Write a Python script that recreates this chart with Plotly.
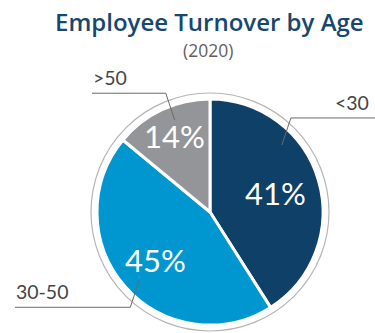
import math
import plotly.graph_objects as go

# Employee turnover share by age group, 2020
age_groups = ["<30", "30-50", ">50"]
turnover_share = [41, 45, 14]
slice_colors = ["#0f4068", "#0096cf", "#939598"]

W, H = 375, 333
CX, CY, R = 210, 212, 113      # pie centre and radius (px)
RING_R = 119                   # thin outer ring

# where each leader line meets its slice, and how the callout is laid out
callouts = {
    "<30":   dict(angle=47,  side="right", end=W),
    "30-50": dict(angle=226, side="left",  end=15),
    ">50":   dict(angle=339, side="left",  end=92),
}
# radial position of the percentage text, as a fraction of the radius
pct_radius = {"<30": 0.60, "30-50": 0.64, ">50": 0.74}


def px(x):
    return x / W


def py(y):
    return 1 - y / H


def polar(angle_deg, r):
    a = math.radians(angle_deg)
    return CX + r * math.sin(a), CY - r * math.cos(a)


fig = go.Figure(
    go.Pie(
        labels=age_groups,
        values=turnover_share,
        sort=False,
        direction="clockwise",
        rotation=0,
        marker=dict(colors=slice_colors, line=dict(color="white", width=3)),
        textinfo="none",
        hoverinfo="label+percent",
        showlegend=False,
        domain=dict(x=[px(CX - R), px(CX + R)], y=[py(CY + R), py(CY - R)]),
    )
)

shapes = [
    dict(type="circle", xref="paper", yref="paper",
         x0=px(CX - RING_R), x1=px(CX + RING_R),
         y0=py(CY + RING_R), y1=py(CY - RING_R),
         line=dict(color="#b5b5b5", width=1.2))
]
annotations = [
    dict(text="Employee Turnover by Age", x=px(209), y=py(21), xref="paper", yref="paper",
         showarrow=False, xanchor="center", yanchor="middle",
         font=dict(family="Open Sans", size=24, color="#17476f", weight=600)),
    dict(text="(2020)", x=px(208), y=py(50), xref="paper", yref="paper",
         showarrow=False, xanchor="center", yanchor="middle",
         font=dict(family="Open Sans", size=17.5, color="#5f5f5f", weight=400)),
]

total = sum(turnover_share)
start = 0.0
for label, value in zip(age_groups, turnover_share):
    sweep = 360.0 * value / total
    mid = start + sweep / 2
    tx, ty = polar(mid, pct_radius[label] * R)
    annotations.append(dict(
        text=f"{round(100 * value / total)}%", x=px(tx), y=py(ty),
        xref="paper", yref="paper", showarrow=False,
        xanchor="center", yanchor="middle",
        font=dict(family="Lato", size=31, color="white", weight=400)))

    c = callouts[label]
    ix, iy = polar(c["angle"], 0.87 * R)
    a = math.radians(c["angle"])
    sx = 1 if math.sin(a) > 0 else -1
    sy = 1 if -math.cos(a) > 0 else -1
    ex, ey = ix + sx * 9, iy + sy * 27
    shapes.append(dict(type="line", xref="paper", yref="paper",
                       x0=px(ix), y0=py(iy), x1=px(ex), y1=py(ey),
                       line=dict(color="#6a6a6a", width=1)))
    shapes.append(dict(type="line", xref="paper", yref="paper",
                       x0=px(ex), y0=py(ey), x1=px(c["end"]), y1=py(ey),
                       line=dict(color="#6a6a6a", width=1)))
    if c["side"] == "right":
        lx, anchor = c["end"] - 4, "right"
    else:
        lx, anchor = c["end"] - 1, "left"
    annotations.append(dict(
        text=label, x=px(lx), y=py(ey - 2), xref="paper", yref="paper",
        showarrow=False, xanchor=anchor, yanchor="bottom",
        font=dict(family="Lato", size=19.5, color="#454545", weight=400)))
    start += sweep

fig.update_layout(
    width=W, height=H,
    margin=dict(l=0, r=0, t=0, b=0),
    paper_bgcolor="white", plot_bgcolor="white",
    shapes=shapes, annotations=annotations,
)

fig.write_html("out.html", config={"displayModeBar": False})
